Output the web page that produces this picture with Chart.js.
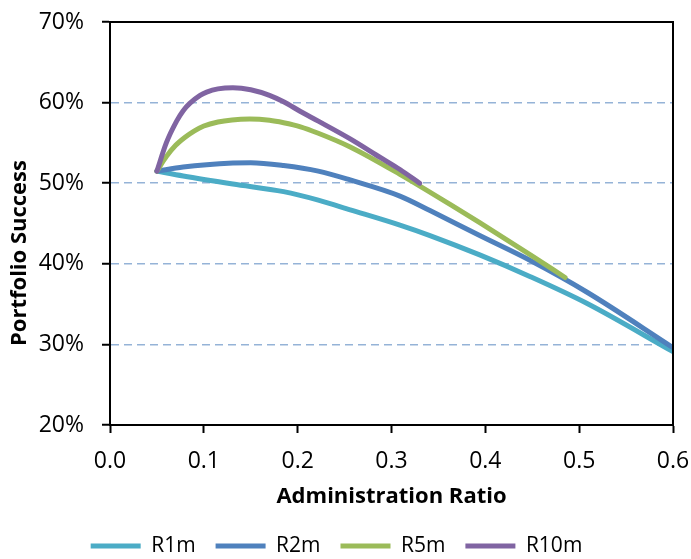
<!DOCTYPE html>
<html>
<head>
<meta charset="utf-8">
<script src="https://cdn.jsdelivr.net/npm/chart.js@4.4.0/dist/chart.umd.min.js"></script>
<style>
    html, body { margin: 0; padding: 0; background: #fff; }
    #wrap { width: 691px; height: 559px; position: relative; }
</style>
</head>
<body>
<div id="wrap"><canvas id="chart"></canvas></div>
<script>
// values: x = administration ratio, y = portfolio success (%)
const seriesNames = ["R1m", "R2m", "R5m", "R10m"];
const seriesColors = ["#4BACC6", "#4F81BD", "#9BBB59", "#8064A2"];

const r1mX = [0.05, 0.078, 0.131, 0.185, 0.222, 0.256, 0.309, 0.341, 0.394, 0.448, 0.508, 0.60];
const r1mY = [51.5, 50.9, 49.9, 48.95, 47.9, 46.7, 44.8, 43.5, 41.1, 38.4, 35.1, 29.1];

const r2mX = [0.05, 0.078, 0.131, 0.15, 0.185, 0.222, 0.256, 0.309, 0.341, 0.394, 0.448, 0.508, 0.60];
const r2mY = [51.5, 52.0, 52.5, 52.55, 52.2, 51.5, 50.4, 48.4, 46.6, 43.5, 40.4, 36.5, 29.6];

const r5mX = [0.05, 0.06, 0.07, 0.08, 0.09, 0.10, 0.115, 0.13, 0.149, 0.17, 0.185, 0.203, 0.222, 0.256, 0.309, 0.362, 0.394, 0.448, 0.485];
const r5mY = [51.5, 53.3, 54.7, 55.7, 56.5, 57.1, 57.6, 57.85, 57.95, 57.8, 57.5, 57.0, 56.2, 54.5, 51.1, 47.4, 45.1, 41.1, 38.3];

const r10mX = [0.05, 0.06, 0.071, 0.078, 0.085, 0.096, 0.103, 0.115, 0.131, 0.15, 0.17, 0.185, 0.203, 0.222, 0.256, 0.288, 0.309, 0.33];
const r10mY = [51.5, 55.0, 57.7, 59.0, 59.9, 60.9, 61.3, 61.7, 61.85, 61.6, 60.9, 60.1, 58.9, 57.7, 55.5, 53.2, 51.7, 50.0];

const seriesX = [r1mX, r2mX, r5mX, r10mX];
const seriesY = [r1mY, r2mY, r5mY, r10mY];

const FONT = "Open Sans";

// full black frame round the plot area, and the y title (sits a bit low in the original)
const frame = {
    id: "frame",
    afterDatasetsDraw(chart) {
        const a = chart.chartArea;
        const ctx = chart.ctx;
        ctx.save();
        ctx.strokeStyle = "#000";
        ctx.lineWidth = 2;
        ctx.strokeRect(a.left, a.top, a.right - a.left, a.bottom - a.top);
        ctx.restore();
    },
    afterDraw(chart) {
        const ctx = chart.ctx;
        ctx.save();
        ctx.translate(20, 253);
        ctx.rotate(-Math.PI / 2);
        ctx.font = "bold 22px '" + FONT + "'";
        ctx.fillStyle = "#000";
        ctx.textAlign = "center";
        ctx.textBaseline = "middle";
        ctx.fillText("Portfolio Success", 0, 0);
        ctx.restore();
    }
};

const datasets = seriesNames.map((name, i) => ({
    label: name,
    data: seriesX[i].map((x, j) => ({ x: x, y: seriesY[i][j] })),
    borderColor: seriesColors[i],
    backgroundColor: seriesColors[i],
    borderWidth: 5,
    borderCapStyle: "round",
    borderJoinStyle: "round",
    showLine: true,
    pointRadius: 0,
    cubicInterpolationMode: "monotone",
    order: seriesNames.length - 1 - i, // later series on top
}));

new Chart(document.getElementById("chart"), {
    type: "scatter",
    data: { datasets: datasets },
    options: {
        responsive: true,
        maintainAspectRatio: false,
        animation: false,
        layout: { padding: { top: 22, right: 18, left: 0, bottom: -7.5 } },
        plugins: {
            tooltip: { enabled: false },
            legend: {
                position: "bottom",
                labels: {
                    font: { family: FONT, size: 21 },
                    color: "#000",
                    boxWidth: 50,
                    boxHeight: 5,
                    padding: 20,
                    sort: (a, b) => a.datasetIndex - b.datasetIndex,
                    generateLabels: (chart) => chart.data.datasets.map((ds, i) => ({
                        text: ds.label,
                        fillStyle: ds.borderColor,
                        strokeStyle: ds.borderColor,
                        lineWidth: 0,
                        fontColor: "#000",
                        datasetIndex: i,
                        hidden: false,
                    })),
                },
            },
        },
        scales: {
            x: {
                type: "linear",
                min: 0,
                max: 0.6,
                afterFit: (s) => { s.height = 90.5; s.paddingLeft = 0; s.paddingRight = 0; },
                ticks: {
                    stepSize: 0.1,
                    color: "#000",
                    padding: 15,
                    font: { family: FONT, size: 23 },
                    callback: (v) => v.toFixed(1),
                },
                grid: {
                    color: "transparent",
                    tickColor: "#000",
                    tickLength: 8,
                    tickWidth: 2,
                    drawOnChartArea: false,
                },
                border: { color: "#000", width: 2 },
                title: {
                    display: true,
                    text: "Administration Ratio",
                    color: "#000",
                    font: { family: FONT, size: 22, weight: "bold" },
                    padding: { top: 4, bottom: 6 },
                },
            },
            y: {
                min: 20,
                max: 70,
                afterFit: (s) => { s.width = 110; s.paddingTop = 0; s.paddingBottom = 0; },
                ticks: {
                    stepSize: 10,
                    color: "#000",
                    padding: 18,
                    font: { family: FONT, size: 23 },
                    callback: (v) => v + "%",
                },
                grid: {
                    color: "#95B3D7",
                    lineWidth: 1.5,
                    tickColor: "#000",
                    tickLength: 8,
                    tickWidth: 2,
                    tickBorderDash: [],
                },
                border: { color: "#000", width: 2, dash: [8, 5] },
            },
        },
    },
    plugins: [frame],
});
</script>
</body>
</html>
